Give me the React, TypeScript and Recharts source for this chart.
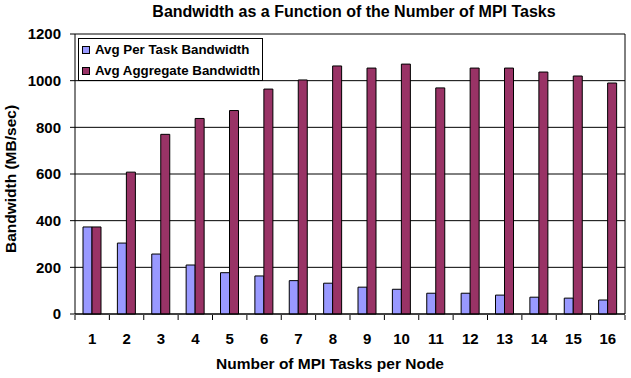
import React from 'react';
import { BarChart, Bar, XAxis, YAxis, CartesianGrid } from 'recharts';

const tasks = ['1', '2', '3', '4', '5', '6', '7', '8', '9', '10', '11', '12', '13', '14', '15', '16'];
const perTask = [373, 304, 257, 210, 177, 163, 143, 132, 115, 106, 89, 89, 81, 72, 68, 60];
const aggregate = [373, 608, 770, 838, 872, 964, 1003, 1063, 1054, 1071, 969, 1054, 1054, 1037, 1020, 990];
const yTicks = [0, 200, 400, 600, 800, 1000, 1200];

const seriesNames = ['Avg Per Task Bandwidth', 'Avg Aggregate Bandwidth'];
const seriesColors = ['#9999FF', '#993366'];

const data = tasks.map((t, i) => ({
  task: t,
  idx: i + 1,
  perTask: perTask[i],
  aggregate: aggregate[i],
}));

// boundaries between categories, for the Excel-style tick marks
const boundaryTicks = [...tasks.map((_, i) => i + 0.5), tasks.length + 0.5];

const font = "'Liberation Sans', Arial, sans-serif";
const tickStyle = { fill: '#000', fontSize: 15, fontWeight: 'bold', fontFamily: font };

const LegendBox = () => (
  <div
    style={{
      position: 'absolute',
      left: 78,
      top: 38,
      border: '1px solid #000',
      background: '#fff',
      width: 185,
      height: 43,
      boxSizing: 'border-box',
      paddingLeft: 3,
      fontFamily: font,
      fontWeight: 'bold',
      fontSize: 13.3,
      color: '#000',
      whiteSpace: 'nowrap',
    }}
  >
    {seriesNames.map((name, i) => (
      <div key={name} style={{ display: 'flex', alignItems: 'center', height: 21 }}>
        <span
          style={{
            display: 'inline-block',
            flex: 'none',
            width: 6,
            height: 6,
            background: seriesColors[i],
            border: '1px solid #000',
            marginRight: 5,
          }}
        />
        <span style={{ flex: 'none' }}>{name}</span>
      </div>
    ))}
  </div>
);

export default function App() {
  return (
    <div style={{ position: 'absolute', left: 0, top: 0, width: 631, height: 378, background: '#fff' }}>
      <BarChart
        width={631}
        height={378}
        data={data}
        margin={{ top: 34, right: 0, left: 0, bottom: 14 }}
        barSize={9}
        barGap={0}
      >
        <CartesianGrid horizontal vertical={false} stroke="#000" strokeDasharray="" />
        <XAxis
          dataKey="task"
          height={1}
          axisLine={{ stroke: '#000' }}
          tickLine={false}
          tickSize={0}
          tickMargin={19}
          tick={tickStyle}
          interval={0}
        />
        <XAxis
          xAxisId="b"
          dataKey="idx"
          type="number"
          domain={[0.5, tasks.length + 0.5]}
          ticks={boundaryTicks}
          height={49}
          axisLine={false}
          tickLine={{ stroke: '#000' }}
          tickSize={5}
          tickFormatter={() => ''}
        />
        <YAxis
          domain={[0, 1200]}
          ticks={yTicks}
          width={75}
          axisLine={{ stroke: '#000' }}
          tickLine={{ stroke: '#000' }}
          tickSize={5}
          tickMargin={9}
          tick={tickStyle}
        />
        <YAxis
          yAxisId="r"
          orientation="right"
          domain={[0, 1200]}
          width={6}
          axisLine={{ stroke: '#000' }}
          tickLine={false}
          tick={false}
        />
        <Bar dataKey="perTask" name={seriesNames[0]} fill={seriesColors[0]} stroke="#000" strokeWidth={1} isAnimationActive={false} />
        <Bar dataKey="aggregate" name={seriesNames[1]} fill={seriesColors[1]} stroke="#000" strokeWidth={1} isAnimationActive={false} />
      </BarChart>
      <LegendBox />
      <svg
        width={631}
        height={378}
        style={{ position: 'absolute', left: 0, top: 0, pointerEvents: 'none', fontFamily: font, fontWeight: 'bold' }}
      >
        <text x={354} y={17} textAnchor="middle" fontSize={16} fill="#000">
          Bandwidth as a Function of the Number of MPI Tasks
        </text>
        <text x={330} y={369} textAnchor="middle" fontSize={15.5} fill="#000">
          Number of MPI Tasks per Node
        </text>
        <text x={16} y={179} textAnchor="middle" fontSize={15.5} fill="#000" transform="rotate(-90 16 179)">
          Bandwidth (MB/sec)
        </text>
      </svg>
    </div>
  );
}
